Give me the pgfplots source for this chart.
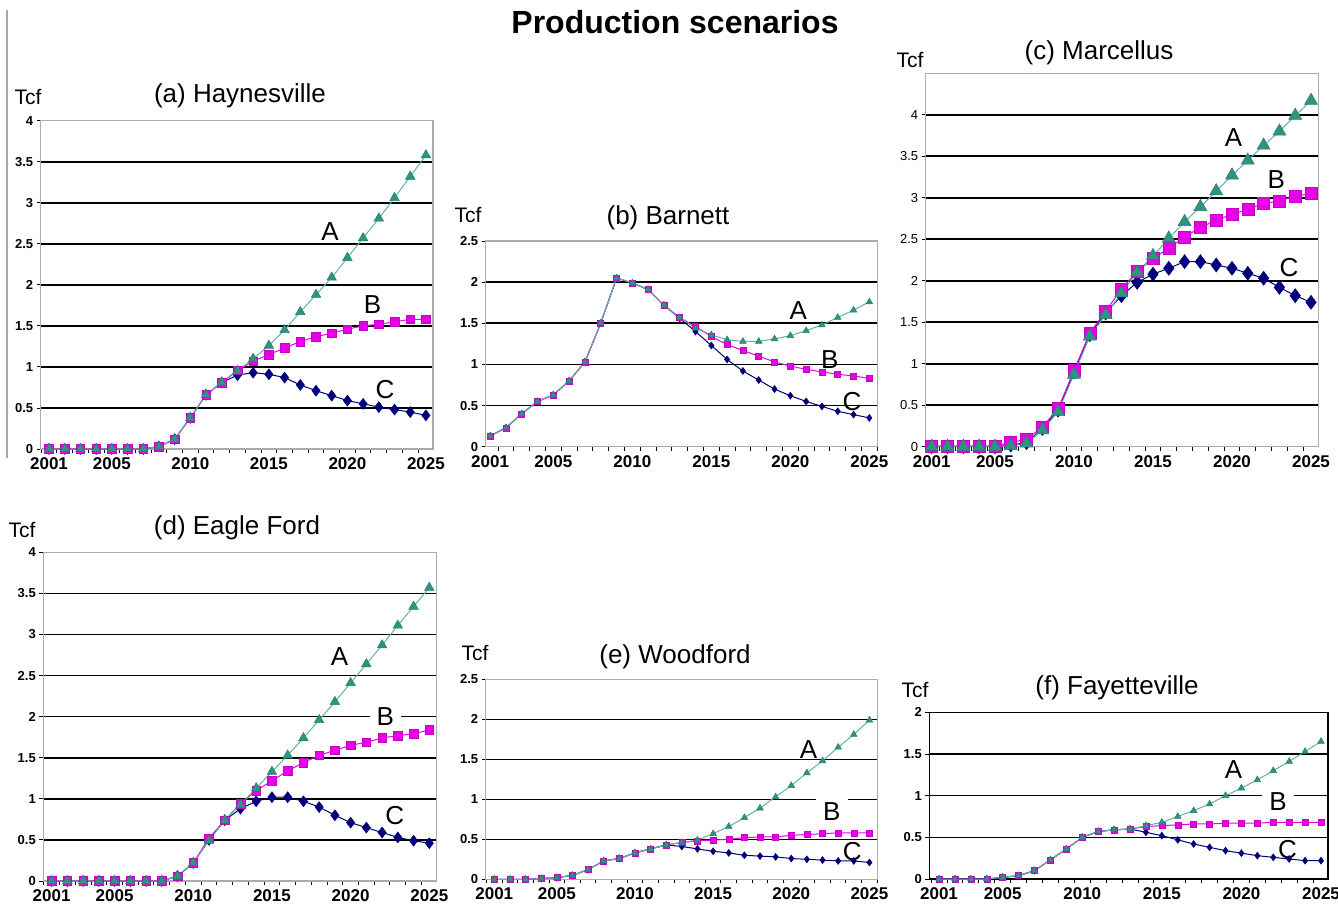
\documentclass[border=0pt]{standalone}
\usepackage{pgfplots}
\usepackage{pgfplotstable}
\pgfplotsset{compat=1.18}
\usepackage{fontspec}
\setmainfont{Liberation Sans}
\definecolor{cA}{HTML}{2E9482}
\definecolor{cAl}{HTML}{5FB3A3}
\definecolor{cB}{HTML}{E800E8}
\definecolor{cC}{HTML}{00007A}

\pgfplotstableread{
year A B C
2001 0 0 0
2002 0 0 0
2003 0 0 0
2004 0 0 0
2005 0 0 0
2006 0 0 0
2007 0 0 0
2008 0.03 0.03 0.03
2009 0.12 0.12 0.12
2010 0.38 0.38 0.38
2011 0.66 0.66 0.66
2012 0.81 0.81 0.81
2013 0.95 0.96 0.90
2014 1.10 1.07 0.93
2015 1.26 1.15 0.91
2016 1.45 1.23 0.87
2017 1.67 1.31 0.78
2018 1.88 1.37 0.71
2019 2.09 1.41 0.65
2020 2.33 1.46 0.59
2021 2.57 1.50 0.55
2022 2.81 1.52 0.51
2023 3.06 1.55 0.48
2024 3.32 1.58 0.45
2025 3.58 1.58 0.41
}\tabA

\pgfplotstableread{
year A B C
2001 0.13 0.13 0.13
2002 0.23 0.23 0.23
2003 0.40 0.40 0.40
2004 0.55 0.55 0.55
2005 0.63 0.63 0.63
2006 0.80 0.80 0.80
2007 1.03 1.03 1.03
2008 1.50 1.50 1.50
2009 2.05 2.05 2.05
2010 1.99 1.99 1.99
2011 1.91 1.91 1.91
2012 1.72 1.72 1.72
2013 1.57 1.57 1.56
2014 1.44 1.46 1.40
2015 1.36 1.34 1.23
2016 1.30 1.24 1.06
2017 1.28 1.17 0.92
2018 1.28 1.10 0.81
2019 1.31 1.03 0.70
2020 1.35 0.98 0.62
2021 1.41 0.94 0.55
2022 1.48 0.91 0.49
2023 1.57 0.88 0.43
2024 1.66 0.86 0.39
2025 1.76 0.83 0.35
}\tabB

\pgfplotstableread{
year A B C
2001 0 0.01 0
2002 0 0.01 0
2003 0 0.01 0
2004 0 0.01 0
2005 0 0.01 0
2006 0.01 0.05 0.02
2007 0.04 0.09 0.05
2008 0.20 0.24 0.22
2009 0.42 0.46 0.44
2010 0.87 0.92 0.90
2011 1.33 1.37 1.35
2012 1.59 1.63 1.61
2013 1.85 1.90 1.82
2014 2.10 2.11 1.98
2015 2.30 2.27 2.08
2016 2.51 2.39 2.15
2017 2.71 2.53 2.23
2018 2.89 2.64 2.23
2019 3.08 2.73 2.19
2020 3.27 2.80 2.15
2021 3.45 2.86 2.09
2022 3.63 2.93 2.03
2023 3.80 2.96 1.92
2024 3.99 3.02 1.82
2025 4.17 3.05 1.74
}\tabC

\pgfplotstableread{
year A B C
2001 0 0 0
2002 0 0 0
2003 0 0 0
2004 0 0 0
2005 0 0 0
2006 0 0 0
2007 0 0 0
2008 0 0 0
2009 0.06 0.06 0.06
2010 0.22 0.22 0.22
2011 0.49 0.52 0.50
2012 0.74 0.74 0.74
2013 0.93 0.94 0.88
2014 1.13 1.10 0.97
2015 1.33 1.22 1.02
2016 1.53 1.34 1.02
2017 1.74 1.44 0.97
2018 1.96 1.53 0.90
2019 2.18 1.59 0.80
2020 2.41 1.65 0.71
2021 2.64 1.69 0.65
2022 2.87 1.74 0.59
2023 3.11 1.77 0.53
2024 3.34 1.79 0.49
2025 3.57 1.84 0.46
}\tabD

\pgfplotstableread{
year A B C
2001 0 0 0
2002 0 0 0
2003 0 0 0
2004 0.01 0.01 0.01
2005 0.02 0.02 0.02
2006 0.05 0.05 0.05
2007 0.12 0.12 0.12
2008 0.23 0.23 0.23
2009 0.26 0.26 0.26
2010 0.33 0.33 0.33
2011 0.38 0.38 0.38
2012 0.43 0.43 0.43
2013 0.46 0.46 0.41
2014 0.49 0.48 0.38
2015 0.57 0.49 0.35
2016 0.66 0.50 0.33
2017 0.77 0.52 0.30
2018 0.89 0.53 0.29
2019 1.03 0.53 0.28
2020 1.17 0.55 0.26
2021 1.33 0.56 0.25
2022 1.48 0.57 0.24
2023 1.65 0.58 0.23
2024 1.81 0.58 0.23
2025 1.99 0.58 0.21
}\tabE

\pgfplotstableread{
year A B C
2001 0 0 0
2002 0 0 0
2003 0 0 0
2004 0 0 0
2005 0.02 0.02 0.02
2006 0.04 0.04 0.04
2007 0.10 0.10 0.10
2008 0.23 0.23 0.23
2009 0.36 0.36 0.36
2010 0.50 0.50 0.50
2011 0.57 0.57 0.57
2012 0.59 0.59 0.59
2013 0.60 0.60 0.60
2014 0.64 0.63 0.56
2015 0.68 0.64 0.52
2016 0.75 0.65 0.47
2017 0.82 0.66 0.42
2018 0.90 0.66 0.38
2019 1.00 0.67 0.34
2020 1.09 0.67 0.31
2021 1.19 0.67 0.28
2022 1.30 0.68 0.26
2023 1.41 0.68 0.24
2024 1.53 0.68 0.22
2025 1.65 0.68 0.22
}\tabF

\pgfplotsset{
  panel/.style={
    scale only axis, enlargelimits=false, clip=false,
    axis line style={draw=gray!65, line width=1.5pt},
    ymin=0,
    xtick={2000.5,2001.5,...,2025.5}, xticklabels={},
    extra x ticks={2001,2005,2010,2015,2020,2025},
    extra x tick labels={2001,2005,2010,2015,2020,2025},
    extra x tick style={major tick length=0pt},
    ymajorgrids,
    major grid style={black, line width=1.6pt},
    tick style={black, line width=0.9pt},
    major tick length=4pt, tick align=outside,
    xtick pos=left, ytick pos=left,
    /pgf/number format/assume math mode=true,
    xticklabel style={font=\bfseries\fontsize{17}{17}\selectfont, yshift=-5pt},
    yticklabel style={font=\bfseries\fontsize{13}{13}\selectfont},
    every axis plot/.append style={line width=1pt},
  },
  sA/.style={color=cAl, mark=triangle*, mark size=#1, mark options={fill=cA, draw=cA!85!black, line width=0.5pt, solid}},
  sB/.style={color=cB, mark=square*, mark size=#1, mark options={fill=cB, draw=cB!85!black, line width=0.5pt, solid}},
  sC/.style={color=cC, mark=diamond*, mark size=#1, mark options={fill=cC, draw=cC, line width=0.5pt, solid}},
}
\tikzset{
  lbl/.style={font=\fontsize{26}{26}\selectfont, inner sep=2pt},
  lblw/.style={font=\fontsize{26}{26}\selectfont, fill=white, inner xsep=7pt, inner ysep=4pt},
  ttl/.style={font=\fontsize{26}{26}\selectfont},
  unit/.style={font=\fontsize{21}{21}\selectfont},
}

\begin{document}
\begin{tikzpicture}[x=1pt,y=1pt]
\path[use as bounding box] (0,0) rectangle (1338,911);
\draw[gray!70, line width=1.2pt] (7,901) -- (7,453);
\node[font=\bfseries\fontsize{32}{32}\selectfont] at (675,889) {Production scenarios};

\node[unit] at (28,814) {Tcf};   \node[ttl] at (240,815) {(a) Haynesville};
\node[unit] at (468,696) {Tcf};  \node[ttl] at (668,693) {(b) Barnett};
\node[unit] at (910,851) {Tcf};  \node[ttl] at (1099,858) {(c) Marcellus};
\node[unit] at (22,381) {Tcf};   \node[ttl] at (237,383) {(d) Eagle Ford};
\node[unit] at (475,258) {Tcf};  \node[ttl] at (675,254) {(e) Woodford};
\node[unit] at (915,221) {Tcf};  \node[ttl] at (1117,223) {(f) Fayetteville};

% (a) Haynesville
\begin{axis}[panel, at={(40.7pt,462pt)}, anchor=south west, width=392.3pt, height=328.3pt,
  xmin=2000.47, xmax=2025.45, ymax=4, ytick={0,0.5,...,4}]
\addplot[sC=5.5] table[x=year,y=C]{\tabA};
\addplot[sB=4.3] table[x=year,y=B]{\tabA};
\addplot[sA=5.5] table[x=year,y=A]{\tabA};
\node[lbl] at (axis cs:2018.9,2.65) {A};
\node[lbl] at (axis cs:2021.6,1.76) {B};
\node[lbl] at (axis cs:2022.4,0.72) {C};
\end{axis}

% (b) Barnett
\begin{axis}[panel, at={(485.7pt,464.3pt)}, anchor=south west, width=392pt, height=205.7pt,
  xmin=2000.72, xmax=2025.53, ymax=2.5, ytick={0,0.5,...,2.5}]
\addplot[sC=3.5] table[x=year,y=C]{\tabB};
\addplot[sB=3] table[x=year,y=B]{\tabB};
\addplot[sA=3.8] table[x=year,y=A]{\tabB};
\node[lbl] at (axis cs:2020.5,1.66) {A};
\node[lbl] at (axis cs:2022.5,1.06) {B};
\node[lbl] at (axis cs:2023.9,0.55) {C};
\end{axis}

% (c) Marcellus
\begin{axis}[panel, at={(925.7pt,464.3pt)}, anchor=south west, width=392.6pt, height=373.4pt,
  xmin=2000.62, xmax=2025.46, ymax=4.5, ytick={0,0.5,...,4},
  yticklabel style={font=\fontsize{13}{13}\selectfont}]
\addplot[sC=7] table[x=year,y=C]{\tabC};
\addplot[sB=6] table[x=year,y=B]{\tabC};
\addplot[sA=7.5] table[x=year,y=A]{\tabC};
\node[lbl] at (axis cs:2020.1,3.72) {A};
\node[lbl] at (axis cs:2022.8,3.22) {B};
\node[lbl] at (axis cs:2023.6,2.16) {C};
\end{axis}

% (d) Eagle Ford
\begin{axis}[panel, at={(43.3pt,30pt)}, anchor=south west, width=393.4pt, height=328.7pt,
  xmin=2000.47, xmax=2025.47, ymax=4, ytick={0,0.5,...,4}]
\addplot[sC=5.5] table[x=year,y=C]{\tabD};
\addplot[sB=4.3] table[x=year,y=B]{\tabD};
\addplot[sA=5.5] table[x=year,y=A]{\tabD};
\node[lbl] at (axis cs:2019.3,2.73) {A};
\node[lblw] at (axis cs:2022.2,2.0) {B};
\node[lbl] at (axis cs:2022.8,0.80) {C};
\end{axis}

% (e) Woodford
\begin{axis}[panel, at={(485.7pt,31.7pt)}, anchor=south west, width=392pt, height=200pt,
  xmin=2000.45, xmax=2025.53, ymax=2.5, ytick={0,0.5,...,2.5}]
\addplot[sC=3.5] table[x=year,y=C]{\tabE};
\addplot[sB=3] table[x=year,y=B]{\tabE};
\addplot[sA=3.8] table[x=year,y=A]{\tabE};
\node[lbl] at (axis cs:2021.1,1.62) {A};
\node[lblw, inner ysep=8pt] at (axis cs:2022.6,0.85) {B};
\node[lbl] at (axis cs:2023.9,0.35) {C};
\end{axis}

% (f) Fayetteville
\begin{axis}[panel, at={(929.3pt,32pt)}, anchor=south west, width=398.7pt, height=166.7pt,
  xmin=2000.39, xmax=2025.44, ymax=2, ytick={0,0.5,...,2},
  axis line style={draw=black, line width=1.2pt}]
\addplot[sC=3.5] table[x=year,y=C]{\tabF};
\addplot[sB=3] table[x=year,y=B]{\tabF};
\addplot[sA=3.8] table[x=year,y=A]{\tabF};
\node[lbl] at (axis cs:2019.5,1.31) {A};
\node[lblw, inner ysep=8pt] at (axis cs:2022.3,0.93) {B};
\node[lbl] at (axis cs:2022.9,0.35) {C};
\end{axis}
\end{tikzpicture}
\end{document}
